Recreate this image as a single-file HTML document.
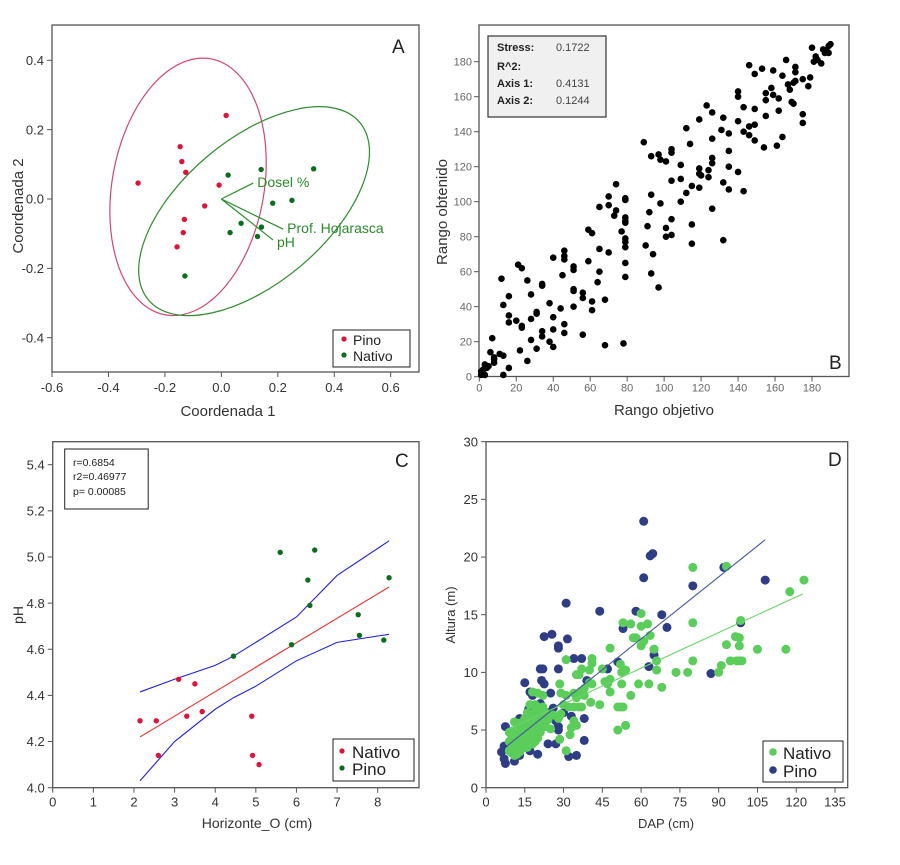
<!DOCTYPE html>
<html><head><meta charset="utf-8">
<style>
html,body{margin:0;padding:0;background:#fff;}
svg{display:block;font-family:"Liberation Sans",Arial,sans-serif;}
</style></head>
<body>
<svg id="fig" width="900" height="865" viewBox="0 0 900 865">
<rect x="0" y="0" width="900" height="865" fill="#fff"/>
</svg>
<script>
// ---------- Panel A data ----------
const aPinoX=[0.017,-0.146,-0.140,-0.126,-0.295,-0.008,-0.059,-0.131,-0.135,-0.157];
const aPinoY=[0.241,0.151,0.108,0.077,0.046,0.040,-0.020,-0.059,-0.097,-0.138];
const aNatX=[0.024,0.141,0.327,0.182,0.250,0.070,0.142,0.031,0.128,-0.129];
const aNatY=[0.069,0.085,0.087,-0.012,-0.004,-0.070,-0.081,-0.097,-0.108,-0.222];
const aVecNames=["Dosel %","Prof. Hojarasca","pH"];
const aVecX=[0.113,0.219,0.183];
const aVecY=[0.046,-0.087,-0.118];
const aTicksX=[-0.6,-0.4,-0.2,0.0,0.2,0.4,0.6];
const aTickLabelsX=["-0.6","-0.4","-0.2","0.0","0.2","0.4","0.6"];
const aTicksY=[-0.4,-0.2,0.0,0.2,0.4];
const aTickLabelsY=["-0.4","-0.2","0.0","0.2","0.4"];
const aPinoCenter=[-0.118,0.035];
const aNatCenter=[0.116,-0.035];
// ---------- Panel B data ----------
const bTicks=[0,20,40,60,80,100,120,140,160,180];
const bTickLabels=["0","20","40","60","80","100","120","140","160","180"];
const bX=[180,182,183,181,185,186,188,189,190,189,187,146,149,153,159,166,171,171,164,167,168,171,170,175,178,179,140,140,143,149,155,155,158,159,162,162,169,170,175,175,140,146,149,146,143,149,155,154,161,164,123,119,126,131,132,135,135,112,114,89,93,97,98,101,104,104,109,104,109,112,109,115,119,119,120,119,124,124,126,126,126,132,135,135,140,143,126,74,70,70,65,74,73,79,79,79,79,79,79,79,79,77,79,79,78,68,59,61,65,70,59,65,64,68,61,61,56,56,56,93,98,92,91,90,94,93,97,101,101,104,104,115,115,132,46,46,46,40,45,51,51,51,51,51,44,46,46,40,40,40,38,38,34,34,34,34,31,31,31,28,28,28,26,26,23,21,23,23,20,22,12,16,13,16,16,7,6,8,8,8,11,13,16,13,5,3,2,1,2,3,1,4];
const bY=[188,183,181,180,179,187,186,189,190,185,185,178,173,176,175,181,177,174,172,167,164,169,168,170,166,171,160,163,154,153,158,162,165,161,159,152,157,156,150,145,146,143,144,138,140,135,149,131,132,137,155,147,151,141,148,139,129,142,133,134,126,127,124,123,130,128,121,112,113,105,100,109,116,119,115,108,118,114,125,122,136,111,120,107,117,106,96,110,103,98,97,95,92,102,101,91,89,88,79,77,74,83,65,57,19,18,84,82,73,71,66,60,54,44,43,38,48,45,24,104,99,94,86,75,70,59,51,85,80,81,90,87,76,78,72,69,67,68,58,63,61,50,49,40,39,30,25,34,27,17,42,20,52,53,26,23,37,36,16,47,33,21,55,9,62,64,29,28,32,15,56,46,41,35,31,22,14,11,10,8,13,12,5,1,6,7,4,3,2,1,1,5];
// ---------- Panel C data ----------
const cTicksX=[0,1,2,3,4,5,6,7,8];
const cTickLabelsX=["0","1","2","3","4","5","6","7","8"];
const cTicksY=[4.0,4.2,4.4,4.6,4.8,5.0,5.2,5.4];
const cTickLabelsY=["4.0","4.2","4.4","4.6","4.8","5.0","5.2","5.4"];
const cNatX=[2.15,2.55,2.6,3.1,3.3,3.5,3.68,4.9,4.92,5.08];
const cNatY=[4.29,4.29,4.14,4.47,4.31,4.45,4.33,4.31,4.14,4.10];
const cPinoX=[4.45,5.6,5.88,6.28,6.33,6.45,7.52,7.55,8.15,8.28];
const cPinoY=[4.57,5.02,4.62,4.90,4.79,5.03,4.75,4.66,4.64,4.91];
const cFitX=[2.15,8.28];
const cFitY=[4.22,4.87];
const cCiX=[2.15,3,4,4.45,5,6,7,8.28];
const cCiUp=[4.415,4.47,4.53,4.57,4.63,4.74,4.92,5.07];
const cCiLo=[4.03,4.2,4.34,4.39,4.44,4.55,4.63,4.665];
// ---------- Panel D data ----------
const dTicksX=[0,15,30,45,60,75,90,105,120,135];
const dTickLabelsX=["0","15","30","45","60","75","90","105","120","135"];
const dTicksY=[0,5,10,15,20,25,30];
const dTickLabelsY=["0","5","10","15","20","25","30"];
const dPinoX=[61,63.5,64.5,61,80,92,108,98.5,87,58,68,70,53,65,65,63,44,31,31.5,25.5,22.5,28,28,21,22,28,34,37,47,51,39,21.5,22.5,15,17,25,18,16.5,24,26,30,33,21,19,27,28,28,38,24,27,17,20,32,35,38,11,7.5,7,6,7,7.5,10,13,12,14,15,19,13,16,20,9,12,15,18];
const dPinoY=[23.1,20.1,20.3,18.2,17.5,19.1,18,14.3,9.9,15.3,15,13.9,13.8,12,11.5,10.5,15.3,16,12.9,13.3,13.1,12.3,12.1,10.3,10.3,10.3,11.2,11.2,10.3,10.9,9.3,9.3,9,9.1,8.3,8.2,8,6.8,6.5,6.9,6.5,6.2,7.3,6.2,5.8,5.3,5,6,3.8,3.8,3.2,2.9,2.7,2.8,4.1,2.3,2.1,2.5,3.1,3.6,5.3,3.8,2.8,4,5,4.5,4.8,6,5.5,5.1,3.3,3.2,3.6,4.2];
const dNatX=[80,93,123,117.5,60,53,56,62.5,60,58,57,61,63.5,60,65,80,98.5,96.5,98,93,98,105,116,80,94.5,97,98,99,91,90,73.5,78,66,66,68,63,59,48,52,54,52.5,52.5,46,47,48,48,45,41,41,40,40,41,40.5,44,51,52,53,56,51,54,37,35,36,38,37,38,34,35,34,36,37,31,29,31,28.5,30,32,29,26,24,22,20,18,19,17,20,22,23,24,23,25,28.5,31,32.5,33,35,34,28,9,10,10,10,11,11,11,12,12,12,13,13,13,14,14,14,15,15,15,16,16,16,17,17,17,18,18,18,19,19,20,20,21,21,22,18,15,12,9,10,11,13,16,19,21,14,16,19,20,9,10,12,13];
const dNatY=[19.1,19.2,18,17,15.1,14.3,14.2,14.2,14,13,13,12.7,13.2,12.3,12,14.3,14.5,13.1,13,12.4,12.3,12,12,11,11,11,11,11,10.6,10,10,10,10.2,11,8.7,9,9,12.1,10.7,10.2,10,9,9.2,9,9.4,8.3,10.3,11.2,10.8,10.2,9.1,9,7.4,7.2,7,7,7,8,5,5.4,10.3,9.8,9.8,8.6,8.4,8,8.2,7.8,7,7,7,11.1,8.2,8,9,7.2,7,6.4,6.3,6.1,8,8.2,8.3,7.2,7.2,7,7,6.5,5.9,5.3,5.1,4.2,3.2,4.6,5.2,5.4,5.8,6,4,3.5,4.5,3,5.7,4.2,3.3,5.2,3.6,2.9,4.8,3.9,3.1,5.5,4.3,3.4,6,5,3.8,5.8,4.5,3.9,6.2,5.4,4.2,6,5,3.8,5.6,4.6,5.3,4.3,5.9,4.8,5.5,4.2,4.2,4.4,3.2,3.9,2.8,5.6,6.5,6.6,6.4,4.8,3.5,4,6,4.8,4.9,4,3.5];
const dPinoFitX=[8,108];
const dPinoFitY=[3.6,21.5];
const dNatFitX=[8,122.5];
const dNatFitY=[5.0,16.8];

// ---------- helpers ----------
const NS='http://www.w3.org/2000/svg';
const svg=document.getElementById('fig');
function mk(tag,attrs,parent){const e=document.createElementNS(NS,tag);for(const k in attrs)e.setAttribute(k,attrs[k]);(parent||svg).appendChild(e);return e;}
function lin(d0,d1,r0,r1){return v=>r0+(v-d0)*(r1-r0)/(d1-d0);}
function txt(x,y,s,size,opts,parent){const t=mk('text',Object.assign({x:x,y:y,'font-size':size,fill:'#222'},opts||{}),parent);t.textContent=s;return t;}

function axes(g,box,sx,sy,tx,txl,ty,tyl,fs,col,xOff,yOff){
  mk('rect',{x:box[0],y:box[1],width:box[2]-box[0],height:box[3]-box[1],fill:'none',stroke:'#555','stroke-width':1.3},g);
  tx.forEach((v,i)=>{
    const x=sx(v);
    mk('line',{x1:x,y1:box[3],x2:x,y2:box[3]+5,stroke:'#555'},g);
    const t=txt(x,box[3]+xOff,txl[i],fs,{'text-anchor':'middle',fill:col},g);
    
    
  });
  ty.forEach((v,i)=>{
    const y=sy(v);
    mk('line',{x1:box[0]-5,y1:y,x2:box[0],y2:y,stroke:'#555'},g);
    const t=txt(box[0]-yOff,y+fs*0.36,tyl[i],fs,{'text-anchor':'end',fill:col},g);
    
    
  });
}
function polyPts(xs,ys,sx,sy){return xs.map((v,i)=>sx(v)+','+sy(ys[i])).join(' ');}

// ---------- Panel A ----------
(function(){
const g=mk('g',{});


const sx=lin(-0.6,0.6,52,390.7), sy=lin(-0.4,0.4,337.7,60.3);
const box=[52,25,419,372];
axes(g,box,sx,sy,aTicksX,aTickLabelsX,aTicksY,aTickLabelsY,13,'#333',20,8);
const pe=mk('ellipse',{cx:0,cy:0,rx:76,ry:130,fill:'none',stroke:'#d2476e','stroke-width':1.2,transform:'translate('+sx(aPinoCenter[0])+','+sy(aPinoCenter[1])+') rotate(10)'},g);


const ne=mk('ellipse',{cx:0,cy:0,rx:138,ry:72,fill:'none',stroke:'#2e8b2e','stroke-width':1.2,transform:'translate('+sx(aNatCenter[0])+','+sy(aNatCenter[1])+') rotate(-40)'},g);


aPinoX.forEach((v,i)=>{
  const c=mk('circle',{cx:sx(v),cy:sy(aPinoY[i]),r:2.7,fill:'#dc143c'},g);
  
  
});
aNatX.forEach((v,i)=>{
  const c=mk('circle',{cx:sx(v),cy:sy(aNatY[i]),r:2.7,fill:'#0b6e1f'},g);
  
  
});
const lblOff=[[4,4],[4,4],[4,7]];
aVecX.forEach((v,i)=>{
  const l=mk('line',{x1:sx(0),y1:sy(0),x2:sx(v),y2:sy(aVecY[i]),stroke:'#2e8b2e','stroke-width':1.2},g);
  
  
  const t=txt(sx(v)+lblOff[i][0],sy(aVecY[i])+lblOff[i][1],aVecNames[i],14,{fill:'#2a8a2a'},g);
  
  
});
const pl=txt(392,53,'A',19,{fill:'#222'},g);


const lg=mk('g',{},g);


mk('rect',{x:333,y:330,width:77,height:37,fill:'#fff',stroke:'#222','stroke-width':1},lg);
mk('circle',{cx:344,cy:339,r:2.6,fill:'#dc143c'},lg);
txt(353,345,'Pino',14,{},lg);
mk('circle',{cx:344,cy:355,r:2.6,fill:'#0b6e1f'},lg);
txt(353,361,'Nativo',14,{},lg);
const xl=txt(228,416,'Coordenada 1',15,{'text-anchor':'middle',fill:'#333'},g);


const yl=txt(0,0,'Coordenada 2',15,{'text-anchor':'middle',fill:'#333',transform:'translate(23,206) rotate(-90)'},g);


})();

// ---------- Panel B ----------
(function(){
const g=mk('g',{});


const sx=lin(0,180,479.3,812), sy=lin(0,180,376.7,61.7);
const box=[479,25,849,376.5];
axes(g,box,sx,sy,bTicks,bTickLabels,bTicks,bTickLabels,11,'#666',15,7);
bX.forEach((v,i)=>{
  const c=mk('circle',{cx:sx(v),cy:sy(bY[i]),r:3.3,fill:'#000'},g);
  
  
});
const sb=mk('g',{},g);


mk('rect',{x:488,y:36,width:118,height:81,fill:'#f0f0f0',stroke:'#333','stroke-width':1.2},sb);
const labs=['Stress:','R^2:','Axis 1:','Axis 2:'], vals=['0.1722','','0.4131','0.1244'], ys=[51,70,87,104];
labs.forEach((s,i)=>{
  txt(497,ys[i],s,11,{'font-weight':'bold',fill:'#222'},sb);
  if(vals[i]) txt(556,ys[i],vals[i],11,{fill:'#444'},sb);
});
const pl=txt(829,369,'B',19,{fill:'#222'},g);


const xl=txt(664,415,'Rango objetivo',15,{'text-anchor':'middle',fill:'#333'},g);


const yl=txt(0,0,'Rango obtenido',15,{'text-anchor':'middle',fill:'#333',transform:'translate(447,212) rotate(-90)'},g);


})();

// ---------- Panel C ----------
(function(){
const g=mk('g',{});


const sx=lin(0,8,52.7,377.7), sy=lin(4,5.4,787.7,464.7);
const box=[52.7,441.7,419,787.7];
axes(g,box,sx,sy,cTicksX,cTickLabelsX,cTicksY,cTickLabelsY,13,'#333',19,8);
const up=mk('polyline',{points:polyPts(cCiX,cCiUp,sx,sy),fill:'none',stroke:'#2020e0','stroke-width':1.1},g);


const lo=mk('polyline',{points:polyPts(cCiX,cCiLo,sx,sy),fill:'none',stroke:'#2020e0','stroke-width':1.1},g);


const fit=mk('polyline',{points:polyPts(cFitX,cFitY,sx,sy),fill:'none',stroke:'#e83030','stroke-width':1.1},g);


cNatX.forEach((v,i)=>{
  const c=mk('circle',{cx:sx(v),cy:sy(cNatY[i]),r:2.7,fill:'#dc143c'},g);
  
  
});
cPinoX.forEach((v,i)=>{
  const c=mk('circle',{cx:sx(v),cy:sy(cPinoY[i]),r:2.7,fill:'#0b6e1f'},g);
  
  
});
const sb=mk('g',{},g);


mk('rect',{x:64.7,y:449,width:83.5,height:60,fill:'#fff',stroke:'#222','stroke-width':1},sb);
txt(73,466,'r=0.6854',10.5,{},sb);
txt(73,480,'r2=0.46977',10.5,{},sb);
txt(73,495,'p= 0.00085',10.5,{},sb);
const pl=txt(395,467,'C',19,{fill:'#222'},g);


const lg=mk('g',{},g);


mk('rect',{x:333,y:739,width:81,height:42,fill:'#fff',stroke:'#222','stroke-width':1},lg);
mk('circle',{cx:342,cy:751,r:2.6,fill:'#dc143c'},lg);
txt(352,758,'Nativo',17,{},lg);
mk('circle',{cx:342,cy:768,r:2.6,fill:'#0b6e1f'},lg);
txt(352,775,'Pino',17,{},lg);
const xl=txt(257,828,'Horizonte_O (cm)',14,{'text-anchor':'middle',fill:'#333'},g);


const yl=txt(0,0,'pH',14,{'text-anchor':'middle',fill:'#333',transform:'translate(23,615) rotate(-90)'},g);


})();

// ---------- Panel D ----------
(function(){
const g=mk('g',{});


const sx=lin(0,135,486,835), sy=lin(0,30,787.7,441.7);
const box=[486,441.7,847.7,787.7];
axes(g,box,sx,sy,dTicksX,dTickLabelsX,dTicksY,dTickLabelsY,13,'#333',19,8);
dPinoX.forEach((v,i)=>{
  const c=mk('circle',{cx:sx(v),cy:sy(dPinoY[i]),r:4.5,fill:'#2e3d86'},g);
  
  
});
dNatX.forEach((v,i)=>{
  const c=mk('circle',{cx:sx(v),cy:sy(dNatY[i]),r:4.5,fill:'#5acd5a'},g);
  
  
});
const pf=mk('polyline',{points:polyPts(dPinoFitX,dPinoFitY,sx,sy),fill:'none',stroke:'#4a5aa0','stroke-width':1.1},g);


const nf=mk('polyline',{points:polyPts(dNatFitX,dNatFitY,sx,sy),fill:'none',stroke:'#6ad46a','stroke-width':1.1},g);


const pl=txt(828,466,'D',19,{fill:'#222'},g);


const lg=mk('g',{},g);


mk('rect',{x:763,y:741,width:80,height:41,fill:'#fff',stroke:'#222','stroke-width':1},lg);
mk('circle',{cx:773,cy:752,r:3.8,fill:'#5acd5a'},lg);
txt(783,759,'Nativo',17,{},lg);
mk('circle',{cx:773,cy:770,r:3.8,fill:'#2e3d86'},lg);
txt(783,777,'Pino',17,{},lg);
const xl=txt(666,828,'DAP (cm)',13,{'text-anchor':'middle',fill:'#333'},g);


const yl=txt(0,0,'Altura (m)',13,{'text-anchor':'middle',fill:'#333',transform:'translate(455,615) rotate(-90)'},g);


})();
</script>
</body></html>
